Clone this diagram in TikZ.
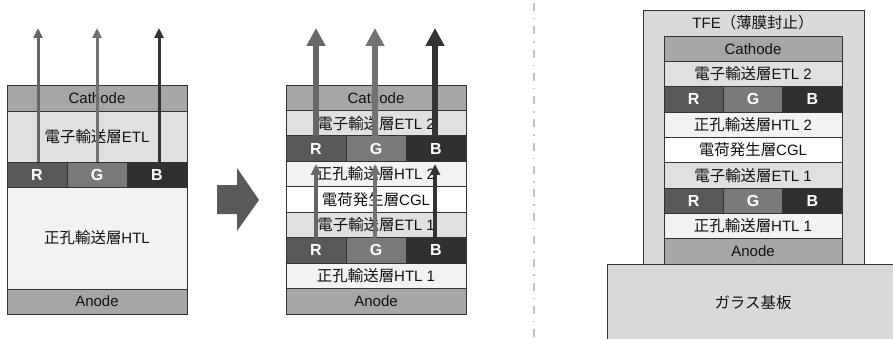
\documentclass[tikz,border=0pt]{standalone}
\usepackage{fontspec}
\setmainfont{Liberation Sans}
\newfontfamily\jp{Noto Sans CJK JP}[Scale=1.03]
\usetikzlibrary{arrows.meta}
\definecolor{cathc}{HTML}{A6A6A6}
\definecolor{etlc}{HTML}{E0E0E0}
\definecolor{htlc}{HTML}{F2F2F2}
\definecolor{rc}{HTML}{595959}
\definecolor{gc}{HTML}{7A7A7A}
\definecolor{bc}{HTML}{303030}
\definecolor{tfec}{HTML}{D9D9D9}
\definecolor{edgec}{HTML}{333333}
\definecolor{arr}{HTML}{595959}
\definecolor{ra}{HTML}{666666}
\definecolor{ga}{HTML}{727272}
\definecolor{ba}{HTML}{333333}
\definecolor{sepc}{HTML}{C4C4C4}
\definecolor{txt}{HTML}{111111}
\tikzset{
  lay/.style={draw=edgec, line width=0.8pt, anchor=north west, inner sep=0pt, outer sep=0pt,
    font=\fontsize{15}{17}\selectfont, text=txt},
  full/.style={lay, minimum width=180pt},
  fullc/.style={lay, minimum width=178pt, minimum height=25.33pt},
  rgbbox/.style={lay, text=white, font=\fontsize{16}{18}\selectfont\bfseries},
  thinarrow/.style={line width=3pt, -{Triangle[width=9pt,length=10pt]}},
  thickarrow/.style={line width=6pt, -{Triangle[width=18pt,length=18pt]}},
  lowarrow/.style={line width=3.5pt, -{Triangle[width=10pt,length=11pt]}},
  plain/.style={font=\fontsize{15}{17}\selectfont, text=txt, inner sep=0pt},
}
\begin{document}
\begin{tikzpicture}[x=1pt,y=-1pt]
\clip (0,0) rectangle (893,339);
\useasboundingbox (0,0) rectangle (893,339);

% ---------------- Panel 1 ----------------
\node[full, fill=cathc, minimum height=26pt] (a1) at (7,85) {Cathode};
\node[full, fill=etlc, minimum height=51pt] (e1) at (7,111) {{\jp 電子輸送層}ETL};
\node[rgbbox, fill=rc, minimum width=60pt, minimum height=25pt] (r1) at (7,162) {R};
\node[rgbbox, fill=gc, minimum width=60pt, minimum height=25pt] (g1) at (67,162) {G};
\node[rgbbox, fill=bc, minimum width=60pt, minimum height=25pt] (b1) at (127,162) {B};
\node[full, fill=htlc, minimum height=102pt] (h1) at (7,187) {{\jp 正孔輸送層}HTL};
\node[full, fill=cathc, minimum height=25pt] (n1) at (7,289) {Anode};
\coordinate (t1r) at (38,28);
\coordinate (t1g) at (97,28);
\coordinate (t1b) at (159,28);
\coordinate (s1r) at (38,162);
\coordinate (s1g) at (97,162);
\coordinate (s1b) at (159,162);
\draw[thinarrow, ra] (s1r) -- (t1r);
\draw[thinarrow, ga] (s1g) -- (t1g);
\draw[thinarrow, ba] (s1b) -- (t1b);

% ---------------- Big arrow ----------------
\fill[arr] (217,185) -- (237,185) -- (237,168) -- (259,200) -- (237,231) -- (237,214) -- (217,214) -- cycle;

% ---------------- Panel 2 ----------------
\node[full, fill=cathc, minimum height=25.44pt] (a2) at (286,85) {Cathode};
\node[full, fill=etlc, minimum height=25.44pt] (e22) at (286,110.44) {{\jp 電子輸送層}ETL 2};
\node[rgbbox, fill=rc, minimum width=60pt, minimum height=25.44pt] (r2u) at (286,135.89) {R};
\node[rgbbox, fill=gc, minimum width=60pt, minimum height=25.44pt] (g2u) at (346,135.89) {G};
\node[rgbbox, fill=bc, minimum width=60pt, minimum height=25.44pt] (b2u) at (406,135.89) {B};
\node[full, fill=htlc, minimum height=25.44pt] (h22) at (286,161.33) {{\jp 正孔輸送層}HTL 2};
\node[full, fill=white, minimum height=25.44pt] (c2) at (286,186.78) {{\jp 電荷発生層}CGL};
\node[full, fill=etlc, minimum height=25.44pt] (e21) at (286,212.22) {{\jp 電子輸送層}ETL 1};
\node[rgbbox, fill=rc, minimum width=60pt, minimum height=25.44pt] (r2l) at (286,237.67) {R};
\node[rgbbox, fill=gc, minimum width=60pt, minimum height=25.44pt] (g2l) at (346,237.67) {G};
\node[rgbbox, fill=bc, minimum width=60pt, minimum height=25.44pt] (b2l) at (406,237.67) {B};
\node[full, fill=htlc, minimum height=25.44pt] (h21) at (286,263.11) {{\jp 正孔輸送層}HTL 1};
\node[full, fill=cathc, minimum height=25.44pt] (n2) at (286,288.56) {Anode};
\coordinate (s2r) at (316,136);
\coordinate (s2g) at (375,136);
\coordinate (s2b) at (435,136);
\coordinate (t2r) at (316,28);
\coordinate (t2g) at (375,28);
\coordinate (t2b) at (435,28);
\draw[thickarrow, ra] (s2r) -- (t2r);
\draw[thickarrow, ga] (s2g) -- (t2g);
\draw[thickarrow, ba] (s2b) -- (t2b);
\coordinate (l2r) at (316,238);
\coordinate (l2g) at (375,238);
\coordinate (l2b) at (435,238);
\coordinate (m2r) at (316,164);
\coordinate (m2g) at (375,164);
\coordinate (m2b) at (435,164);
\draw[lowarrow, ra] (l2r) -- (m2r);
\draw[lowarrow, ga] (l2g) -- (m2g);
\draw[lowarrow, ba] (l2b) -- (m2b);

% ---------------- Separator ----------------
\coordinate (sepa) at (534,3);
\coordinate (sepb) at (534,345);
\draw[sepc, line width=1.3pt, dash pattern=on 8pt off 7pt on 1.5pt off 6.8pt] (sepa) -- (sepb);

% ---------------- Panel 3 ----------------
\node[draw=edgec, line width=0.8pt, fill=tfec, anchor=north west, inner sep=0pt,
      minimum width=221pt, minimum height=254pt] (tfe) at (643,10) {};
\node[plain] (tfet) at (753,23) {TFE{\jp （薄膜封止）}};
\node[draw=edgec, line width=0.8pt, fill=tfec, anchor=north west, inner sep=0pt,
      minimum width=300pt, minimum height=90pt] (glass) at (607,264) {};
\node[plain] (glasst) at (753,303) {{\jp ガラス基板}};
\node[fullc, fill=cathc] (a3) at (664,36) {Cathode};
\node[fullc, fill=etlc] (e32) at (664,61.33) {{\jp 電子輸送層}ETL 2};
\node[rgbbox, fill=rc, minimum width=59.33pt, minimum height=25.33pt] (r3u) at (664,86.67) {R};
\node[rgbbox, fill=gc, minimum width=59.33pt, minimum height=25.33pt] (g3u) at (723.33,86.67) {G};
\node[rgbbox, fill=bc, minimum width=59.33pt, minimum height=25.33pt] (b3u) at (782.67,86.67) {B};
\node[fullc, fill=htlc] (h32) at (664,112) {{\jp 正孔輸送層}HTL 2};
\node[fullc, fill=white] (c3) at (664,137.33) {{\jp 電荷発生層}CGL};
\node[fullc, fill=etlc] (e31) at (664,162.67) {{\jp 電子輸送層}ETL 1};
\node[rgbbox, fill=rc, minimum width=59.33pt, minimum height=25.33pt] (r3l) at (664,188) {R};
\node[rgbbox, fill=gc, minimum width=59.33pt, minimum height=25.33pt] (g3l) at (723.33,188) {G};
\node[rgbbox, fill=bc, minimum width=59.33pt, minimum height=25.33pt] (b3l) at (782.67,188) {B};
\node[fullc, fill=htlc] (h31) at (664,213.33) {{\jp 正孔輸送層}HTL 1};
\node[fullc, fill=cathc] (n3) at (664,238.67) {Anode};
\end{tikzpicture}
\end{document}
